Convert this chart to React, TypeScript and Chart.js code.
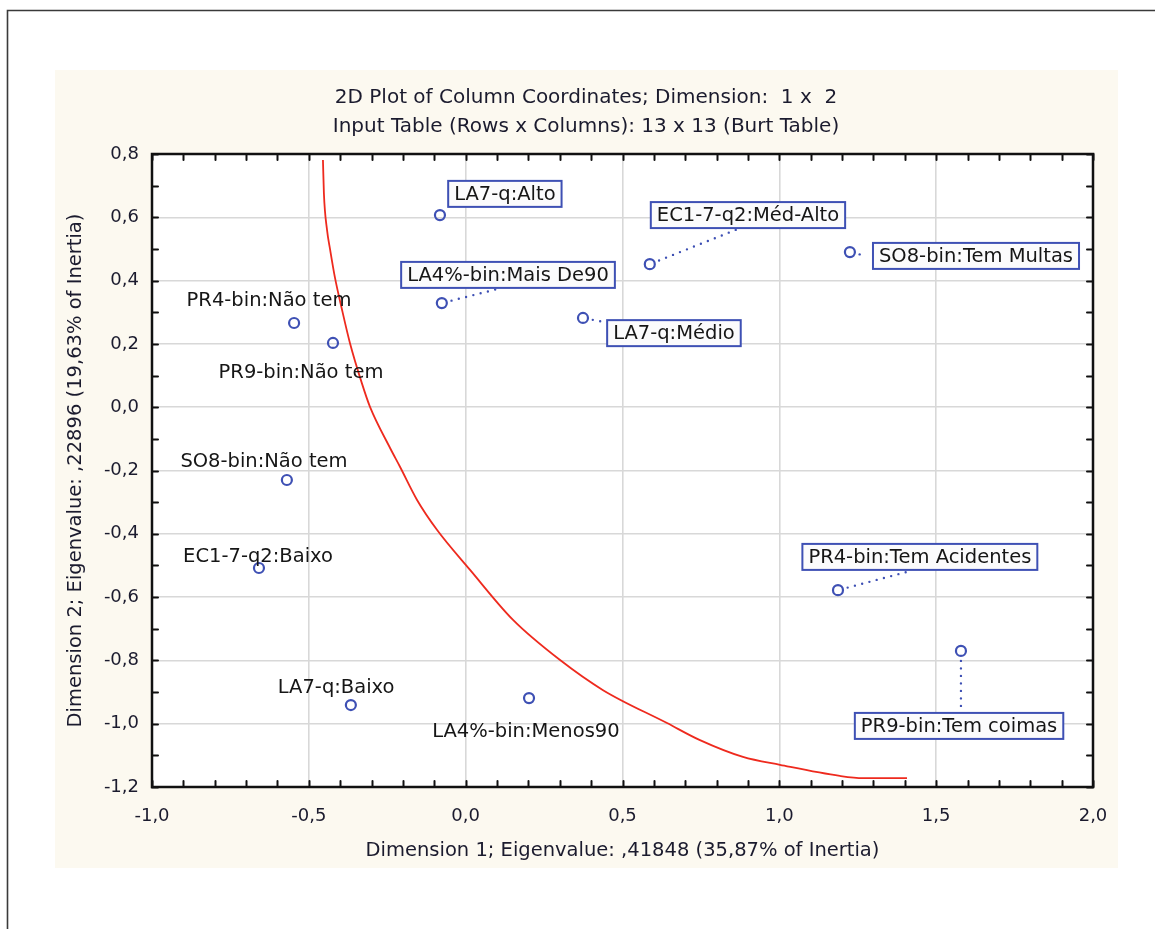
import React, { useEffect, useRef } from 'react';
import { Chart, registerables } from 'chart.js';

Chart.register(...registerables);

// ---------- data ----------
const categories = [
  'LA7-q:Alto',
  'EC1-7-q2:Méd-Alto',
  'SO8-bin:Tem Multas',
  'LA4%-bin:Mais De90',
  'LA7-q:Médio',
  'PR4-bin:Não tem',
  'PR9-bin:Não tem',
  'SO8-bin:Não tem',
  'EC1-7-q2:Baixo',
  'PR4-bin:Tem Acidentes',
  'PR9-bin:Tem coimas',
  'LA7-q:Baixo',
  'LA4%-bin:Menos90',
];
const dim1 = [-0.082, 0.587, 1.225, -0.076, 0.374, -0.547, -0.423, -0.570, -0.659, 1.187, 1.579, -0.366, 0.202];
const dim2 = [0.607, 0.452, 0.490, 0.329, 0.282, 0.266, 0.203, -0.230, -0.508, -0.578, -0.770, -0.941, -0.919];
const boxed = [true, true, true, true, true, false, false, false, false, true, true, false, false];
// label anchor (text centre) in data units
const labelX = [0.125, 0.900, 1.627, 0.135, 0.664, -0.627, -0.525, -0.643, -0.662, 1.448, 1.573, -0.413, 0.192];
const labelY = [0.674, 0.607, 0.478, 0.418, 0.234, 0.339, 0.111, -0.170, -0.470, -0.473, -1.007, -0.884, -1.023];
// dotted leader end (data units), null = none
const leaderX: (number | null)[] = [null, 0.868, 1.276, 0.116, 0.441, null, null, null, null, 1.416, 1.579, null, null];
const leaderY: (number | null)[] = [null, 0.563, 0.478, 0.377, 0.269, null, null, null, null, -0.518, -0.963, null, null];

// hand-drawn red curve
const curveX = [-0.455, -0.452, -0.442, -0.432, -0.417, -0.394, -0.369, -0.331, -0.305, -0.241, -0.209, -0.155, -0.091, 0.014, 0.151, 0.301, 0.438, 0.642, 0.747, 0.884, 1.002, 1.193, 1.267, 1.407];
const curveY = [0.781, 0.677, 0.560, 0.497, 0.411, 0.307, 0.203, 0.076, 0.001, -0.129, -0.189, -0.293, -0.388, -0.514, -0.672, -0.799, -0.894, -0.998, -1.052, -1.105, -1.130, -1.165, -1.172, -1.172];

const xTickValues = [-1.0, -0.5, 0.0, 0.5, 1.0, 1.5, 2.0];
const yTickValues = [-1.2, -1.0, -0.8, -0.6, -0.4, -0.2, 0.0, 0.2, 0.4, 0.6, 0.8];

const titleLines = [
  '2D Plot of Column Coordinates; Dimension:  1 x  2',
  'Input Table (Rows x Columns): 13 x 13 (Burt Table)',
];
const xTitle = 'Dimension 1; Eigenvalue: ,41848 (35,87% of Inertia)';
const yTitle = 'Dimension 2; Eigenvalue: ,22896 (19,63% of Inertia)';

// ---------- styles ----------
const FONT = '"DejaVu Sans", "Liberation Sans", Arial, sans-serif';
const BLUE = '#3e50b4';
const TEXT = '#1b1b2e';
const W = 1155;
const H = 929;

const fmt = (v: number) => v.toFixed(1).replace('.', ',');

const decorPlugin = {
  id: 'decor',
  beforeDraw(chart: any) {
    const { ctx, chartArea: a } = chart;
    ctx.save();
    ctx.fillStyle = '#ffffff';
    ctx.fillRect(0, 0, chart.width, chart.height);
    // outer frame
    ctx.strokeStyle = '#3a3a3a';
    ctx.lineWidth = 1.6;
    ctx.beginPath();
    ctx.moveTo(7.5, chart.height);
    ctx.lineTo(7.5, 10.5);
    ctx.lineTo(chart.width, 10.5);
    ctx.stroke();
    // beige panel
    ctx.fillStyle = '#fcf9f0';
    ctx.fillRect(55, 70, 1063, 798);
    // plot area
    ctx.fillStyle = '#ffffff';
    ctx.fillRect(a.left, a.top, a.right - a.left, a.bottom - a.top);
    ctx.restore();
  },
  afterDatasetsDraw(chart: any) {
    const { ctx, chartArea: a } = chart;
    const xs = chart.scales.x;
    const ys = chart.scales.y;
    ctx.save();
    // leaders
    ctx.strokeStyle = BLUE;
    ctx.lineWidth = 2.4;
    ctx.lineCap = 'round';
    ctx.setLineDash([0, 7.5]);
    for (let i = 0; i < categories.length; i++) {
      const lx = leaderX[i];
      const ly = leaderY[i];
      if (lx === null || ly === null) continue;
      const px = xs.getPixelForValue(dim1[i]);
      const py = ys.getPixelForValue(dim2[i]);
      const ex = xs.getPixelForValue(lx);
      const ey = ys.getPixelForValue(ly);
      const d = Math.hypot(ex - px, ey - py) || 1;
      ctx.beginPath();
      ctx.moveTo(px + ((ex - px) / d) * 10, py + ((ey - py) / d) * 10);
      ctx.lineTo(ex, ey);
      ctx.stroke();
    }
    ctx.setLineDash([]);
    // labels
    ctx.font = `19.5px ${FONT}`;
    ctx.textAlign = 'center';
    ctx.textBaseline = 'middle';
    for (let i = 0; i < categories.length; i++) {
      const cx = xs.getPixelForValue(labelX[i]);
      const cy = ys.getPixelForValue(labelY[i]);
      const w = ctx.measureText(categories[i]).width;
      if (boxed[i]) {
        ctx.fillStyle = '#fbfbfc';
        ctx.fillRect(cx - w / 2 - 6, cy - 13, w + 12, 26);
        ctx.strokeStyle = BLUE;
        ctx.lineWidth = 2;
        ctx.strokeRect(cx - w / 2 - 6, cy - 13, w + 12, 26);
      }
      ctx.fillStyle = '#161616';
      ctx.fillText(categories[i], cx, cy + 1);
    }
    // frame
    ctx.strokeStyle = '#111111';
    ctx.lineWidth = 2.5;
    ctx.strokeRect(a.left, a.top, a.right - a.left, a.bottom - a.top);
    // inward ticks every 0.1
    ctx.lineWidth = 2;
    ctx.beginPath();
    for (let i = 0; i <= 30; i++) {
      const px = Math.round(xs.getPixelForValue(-1 + i / 10)) + 0.5;
      ctx.moveTo(px, a.top);
      ctx.lineTo(px, a.top + 6);
      ctx.moveTo(px, a.bottom);
      ctx.lineTo(px, a.bottom - 6);
    }
    for (let i = 0; i <= 20; i++) {
      const py = Math.round(ys.getPixelForValue(-1.2 + i / 10)) + 0.5;
      ctx.moveTo(a.left, py);
      ctx.lineTo(a.left + 6, py);
      ctx.moveTo(a.right, py);
      ctx.lineTo(a.right - 6, py);
    }
    ctx.stroke();
    ctx.restore();
  },
  afterDraw(chart: any) {
    const { ctx } = chart;
    ctx.save();
    ctx.font = `20px ${FONT}`;
    ctx.fillStyle = TEXT;
    ctx.textAlign = 'center';
    ctx.textBaseline = 'middle';
    ctx.fillText(titleLines[0], 586, 98);
    ctx.fillText(titleLines[1], 586, 127);
    ctx.restore();
  },
};

export default function App() {
  const ref = useRef<HTMLCanvasElement | null>(null);

  useEffect(() => {
    if (!ref.current) return;
    const chart = new Chart(ref.current, {
      type: 'scatter',
      data: {
        datasets: [
          {
            label: 'Column coordinates',
            data: dim1.map((x, i) => ({ x, y: dim2[i] })),
            pointStyle: 'circle',
            pointRadius: 5,
            pointBorderWidth: 2.2,
            borderColor: BLUE,
            pointBorderColor: BLUE,
            backgroundColor: 'rgba(255,255,255,0)',
            pointBackgroundColor: 'rgba(255,255,255,0)',
            showLine: false,
          },
          {
            label: 'curve',
            data: curveX.map((x, i) => ({ x, y: curveY[i] })),
            showLine: true,
            borderColor: '#ee2a1e',
            borderWidth: 1.8,
            pointRadius: 0,
            cubicInterpolationMode: 'monotone',
            fill: false,
          },
        ],
      },
      options: {
        responsive: false,
        animation: false,
        layout: { padding: { left: 55, right: 62, top: 154, bottom: 61 } },
        plugins: {
          legend: { display: false },
          tooltip: { enabled: false },
          title: { display: false },
        },
        scales: {
          x: {
            type: 'linear',
            min: -1,
            max: 2,
            afterBuildTicks: (s: any) => {
              s.ticks = xTickValues.map((v) => ({ value: v }));
            },
            afterFit: (s: any) => {
              s.height = 81;
            },
            ticks: {
              callback: (v: any) => fmt(Number(v)),
              font: { family: FONT, size: 18 },
              color: TEXT,
              padding: 19,
              maxRotation: 0,
              autoSkip: false,
            },
            grid: { color: '#d8d8d8', lineWidth: 1.6, drawTicks: false },
            border: { display: false },
            title: {
              display: true,
              text: xTitle,
              font: { family: FONT, size: 19.5 },
              color: TEXT,
              padding: { top: 0, bottom: 5 },
            },
          },
          y: {
            type: 'linear',
            min: -1.2,
            max: 0.8,
            afterBuildTicks: (s: any) => {
              s.ticks = yTickValues.map((v) => ({ value: v }));
            },
            afterFit: (s: any) => {
              s.width = 97;
            },
            ticks: {
              callback: (v: any) => fmt(Number(v)),
              font: { family: FONT, size: 18 },
              color: TEXT,
              padding: 13,
              autoSkip: false,
            },
            grid: { color: '#d8d8d8', lineWidth: 1.6, drawTicks: false },
            border: { display: false },
            title: {
              display: true,
              text: yTitle,
              font: { family: FONT, size: 19.5 },
              color: TEXT,
              padding: { top: 9, bottom: 0 },
            },
          },
        },
      },
      plugins: [decorPlugin],
    });
    return () => chart.destroy();
  }, []);

  return (
    <div style={{ position: 'absolute', left: 0, top: 0, width: W, height: H }}>
      <canvas ref={ref} width={W} height={H} style={{ display: 'block', width: W, height: H }} />
    </div>
  );
}
